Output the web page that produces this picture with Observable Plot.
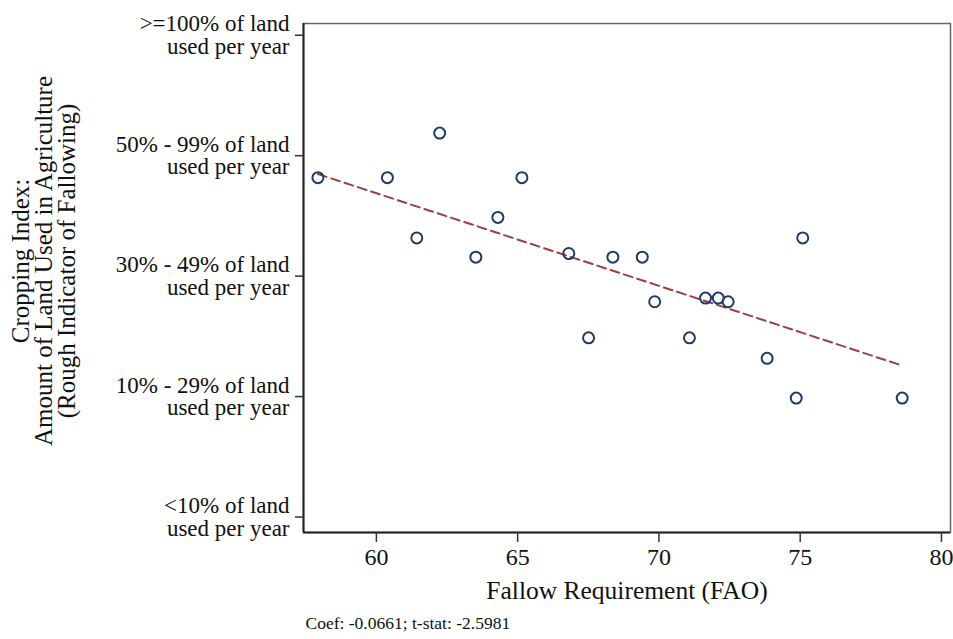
<!DOCTYPE html>
<html>
<head>
<meta charset="utf-8">
<script src="https://cdn.jsdelivr.net/npm/d3@7"></script>
<script src="https://cdn.jsdelivr.net/npm/@observablehq/plot@0.6"></script>
<style>
  html, body { margin: 0; padding: 0; background: white; }
  svg text { font-family: "Liberation Serif", serif; }
</style>
</head>
<body>
<div id="chart"></div>
<script>
// Fallow requirement (FAO), x values
const fallowReq = [57.93, 60.39, 62.24, 61.43, 63.52, 64.30, 65.15, 66.81, 67.51, 68.37,
                   69.41, 69.85, 71.08, 71.65, 72.10, 72.45, 73.83, 75.09, 74.86, 78.61];
// Cropping index (1 = <10% ... 5 = >=100%)
const croppingIndex = [3.83, 3.83, 4.20, 3.33, 3.17, 3.50, 3.83, 3.20, 2.50, 3.17,
                       3.17, 2.80, 2.50, 2.83, 2.83, 2.80, 2.33, 3.33, 2.00, 2.00];
// Fitted line end points
const fitX = [57.93, 78.61];
const fitY = [3.86, 2.27];

const xTicks = [60, 65, 70, 75, 80];
const yTicks = [1, 2, 3, 4, 5];
const yTickLabels = [
  "<10% of land\nused per year",
  "10% - 29% of land\nused per year",
  "30% - 49% of land\nused per year",
  "50% - 99% of land\nused per year",
  ">=100% of land\nused per year"
];
const xTitle = "Fallow Requirement (FAO)";
const yTitle = "Cropping Index:\nAmount of Land Used in Agriculture\n(Rough Indicator of Fallowing)";
const captionText = "Coef: -0.0661; t-stat: -2.5981";

const xDomain = [57.42, 80.32];
const yDomain = [0.884, 5.11];

const points = fallowReq.map((x, i) => ({x, y: croppingIndex[i]}));
const fit = fitX.map((x, i) => ({x, y: fitY[i]}));

const serif = "Liberation Serif";

const chart = Plot.plot({
  width: 953,
  height: 639,
  marginLeft: 303,
  marginRight: 3,
  marginTop: 23,
  marginBottom: 107,
  style: {fontFamily: serif, fontSize: "24px", color: "#111", background: "white"},
  x: {domain: xDomain},
  y: {domain: yDomain},
  marks: [
    Plot.frame({stroke: "#666", strokeWidth: 1.5}),
    Plot.ruleY([yDomain[0]], {stroke: "#222", strokeWidth: 2}),
    Plot.ruleX([xDomain[0]], {stroke: "#222", strokeWidth: 2}),
    Plot.axisX({ticks: xTicks, tickSize: 10, tickPadding: 5, label: null, stroke: "#333", strokeWidth: 1.5,
                fontFamily: serif, fontSize: 24}),
    Plot.axisY({ticks: yTicks, tickSize: 8, tickPadding: 6, label: null, lineHeight: 0.98, dy: -1.5,
                fontFamily: serif, fontSize: 23,
                tickFormat: d => yTickLabels[d - 1], stroke: "#333", strokeWidth: 1.5}),
    Plot.line(fit, {x: "x", y: "y", stroke: "#9b4145", strokeWidth: 2, strokeDasharray: "9,5"}),
    Plot.dot(points, {x: "x", y: "y", r: 5.5, stroke: "#1f3a68", strokeWidth: 2, fill: "none"}),
    Plot.text([xTitle], {frameAnchor: "bottom", dy: 66, lineAnchor: "bottom", text: d => d,
                         fontFamily: serif, fontSize: 25.5}),
    Plot.text([yTitle], {frameAnchor: "left", rotate: -90, dx: -259, dy: -17, textAnchor: "middle",
                         lineAnchor: "middle", lineHeight: 0.93, text: d => d, fontFamily: serif, fontSize: 25}),
    Plot.text([captionText], {frameAnchor: "bottom-left", dx: 2, dy: 96, textAnchor: "start",
                              lineAnchor: "bottom", text: d => d, fontFamily: serif, fontSize: 17.5})
  ]
});
document.getElementById("chart").appendChild(chart);
</script>
</body>
</html>
